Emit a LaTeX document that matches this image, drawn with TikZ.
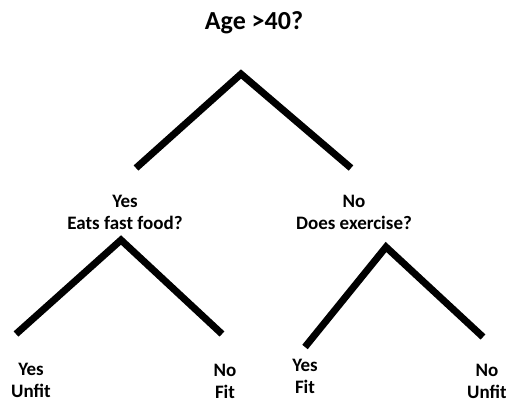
\documentclass[tikz,border=0pt]{standalone}
\usepackage{fontspec}
\setmainfont{Carlito}
\begin{document}
\begin{tikzpicture}[x=1pt, y=-1pt,
  branch/.style={line width=7pt, line join=miter},
  answer/.style={font=\bfseries\fontsize{19}{22}\selectfont, align=center, anchor=base}]
\useasboundingbox (0,0) rectangle (506,405);
% question at the root
\node [font=\bfseries\fontsize{26}{30}\selectfont, anchor=base] (root) at (254,29) {Age >40?};
% branch points
\coordinate (top) at (241,74);
\coordinate (topL) at (136,168);
\coordinate (topR) at (351,168);
\coordinate (yesTop) at (121,240);
\coordinate (yesL) at (16,334);
\coordinate (yesR) at (222,334);
\coordinate (noTop) at (386,247);
\coordinate (noL) at (305,347);
\coordinate (noR) at (483,337);
\draw [branch] (topL) -- (top) -- (topR);
\draw [branch] (yesL) -- (yesTop) -- (yesR);
\draw [branch] (noL) -- (noTop) -- (noR);
% answers
\node [answer] (yes) at (125,229) {Yes\\Eats fast food?};
\node [answer] (no) at (354,229) {No\\Does exercise?};
\node [answer] (yesyes) at (31,397) {Yes\\Unfit};
\node [answer] (yesno) at (225,398) {No\\Fit};
\node [answer] (noyes) at (305,393) {Yes\\Fit};
\node [answer] (nono) at (487,398) {No\\Unfit};
\end{tikzpicture}
\end{document}
